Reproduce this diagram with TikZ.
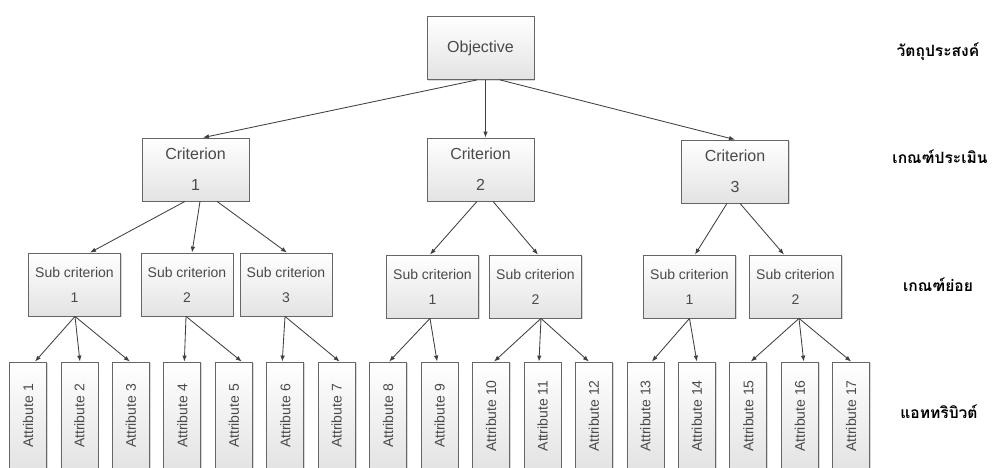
\documentclass[tikz,border=0pt]{standalone}
\usepackage{fontspec}
\setmainfont{Liberation Sans}
\newfontfamily\thaifont[Script=Thai]{Loma}
\usetikzlibrary{arrows.meta,shadows}
\definecolor{boxline}{HTML}{666666}
\definecolor{boxtext}{HTML}{4A4A4A}
\definecolor{arrowcol}{HTML}{404040}
\tikzset{
  box/.style={draw=boxline, line width=0.8pt, top color=white, bottom color=gray!22,
    drop shadow={shadow xshift=1.3pt, shadow yshift=-1.3pt, opacity=0.3, fill=gray},
    text=boxtext, align=center, inner sep=0pt},
  bigbox/.style={box, minimum width=107pt, minimum height=63pt, font=\fontsize{16}{31}\selectfont},
  subbox/.style={box, minimum width=92pt, minimum height=63pt, font=\fontsize{14}{25}\selectfont},
  attrbox/.style={box, minimum width=37pt, minimum height=108pt, font=\fontsize{14}{16}\selectfont},
  arr/.style={draw=arrowcol, line width=0.85pt, -{Latex[length=6pt,width=4.5pt]}},
  thai/.style={font=\thaifont\bfseries\fontsize{15.6}{18}\selectfont, text=black}
}
\begin{document}
\begin{tikzpicture}[x=1pt,y=-1pt]
\useasboundingbox (0,0) rectangle (996,467);
% level 1
\node[bigbox] (obj) at (480.5,48) {Objective};
% level 2
\node[bigbox] (c1) at (195.5,169.5) {Criterion\\1};
\node[bigbox] (c2) at (480.5,169.5) {Criterion\\2};
\node[bigbox] (c3) at (735,171.5) {Criterion\\3};
% level 3
\node[subbox] (s1) at (74.5,284.5) {Sub criterion\\1};
\node[subbox] (s2) at (187,284.5) {Sub criterion\\2};
\node[subbox] (s3) at (286,284.5) {Sub criterion\\3};
\node[subbox] (sb1) at (432.5,286.5) {Sub criterion\\1};
\node[subbox] (sb2) at (535.5,286.5) {Sub criterion\\2};
\node[subbox] (sc1) at (689.5,286.5) {Sub criterion\\1};
\node[subbox] (sc2) at (795.5,286.5) {Sub criterion\\2};
% level 4
\foreach \i in {1,...,17} {
  \node[attrbox] (a\i) at ({28+51.45*(\i-1)},416) {\rotatebox{90}{Attribute \i}};
}
% labels
\node[thai] (l1) at (938,52) {วัตถุประสงค์};
\node[thai] (l2) at (940,157) {เกณฑ์ประเมิน};
\node[thai] (l3) at (938,285) {เกณฑ์ย่อย};
\node[thai] (l4) at (939,412) {แอททริบิวต์};
% connectors objective -> criteria
\draw[arr] ([xshift=-3.5pt]obj.south) -- ([xshift=7.5pt]c1.north);
\draw[arr] ([xshift=5pt]obj.south) -- ([xshift=5pt]c2.north);
\draw[arr] ([xshift=19.5pt]obj.south) -- (c3.north);
% criterion 1
\draw[arr] ([xshift=-10.5pt]c1.south) -- ([xshift=15.5pt]s1.north);
\draw[arr] ([xshift=4.5pt]c1.south) -- ([xshift=5pt]s2.north);
\draw[arr] ([xshift=21.5pt]c1.south) -- ([xshift=1pt]s3.north);
% criterion 2
\draw[arr] ([xshift=-3.5pt]c2.south) -- ([xshift=-2.5pt]sb1.north);
\draw[arr] ([xshift=12.5pt]c2.south) -- ([xshift=2.5pt]sb2.north);
% criterion 3
\draw[arr] ([xshift=-8pt]c3.south) -- ([xshift=5.5pt]sc1.north);
\draw[arr] ([xshift=5pt]c3.south) -- ([xshift=-11.5pt]sc2.north);
% sub criteria -> attributes
\draw[arr] ([xshift=0.5pt]s1.south) -- ([xshift=7pt]a1.north);
\draw[arr] ([xshift=0.5pt]s1.south) -- ([xshift=0.5pt]a2.north);
\draw[arr] ([xshift=0.5pt]s1.south) -- ([xshift=-1pt]a3.north);
\draw[arr] ([xshift=-1pt]s2.south) -- ([xshift=2pt]a4.north);
\draw[arr] ([xshift=-1pt]s2.south) -- ([xshift=8pt]a5.north);
\draw[arr] ([xshift=-1pt]s3.south) -- ([xshift=-3pt]a6.north);
\draw[arr] ([xshift=-1pt]s3.south) -- ([xshift=3pt]a7.north);
\draw[arr] ([xshift=-2.5pt]sb1.south) -- ([xshift=1pt]a8.north);
\draw[arr] ([xshift=-2.5pt]sb1.south) -- ([xshift=-2.5pt]a9.north);
\draw[arr] ([xshift=5.5pt]sb2.south) -- ([xshift=3pt]a10.north);
\draw[arr] ([xshift=5.5pt]sb2.south) -- ([xshift=-3.5pt]a11.north);
\draw[arr] ([xshift=5.5pt]sb2.south) -- ([xshift=-5pt]a12.north);
\draw[arr] (sc1.south) -- ([xshift=6.5pt]a13.north);
\draw[arr] (sc1.south) -- (a14.north);
\draw[arr] ([xshift=3.5pt]sc2.south) -- ([xshift=2.5pt]a15.north);
\draw[arr] ([xshift=3.5pt]sc2.south) -- ([xshift=4pt]a16.north);
\draw[arr] ([xshift=3.5pt]sc2.south) -- (a17.north);
\end{tikzpicture}
\end{document}
